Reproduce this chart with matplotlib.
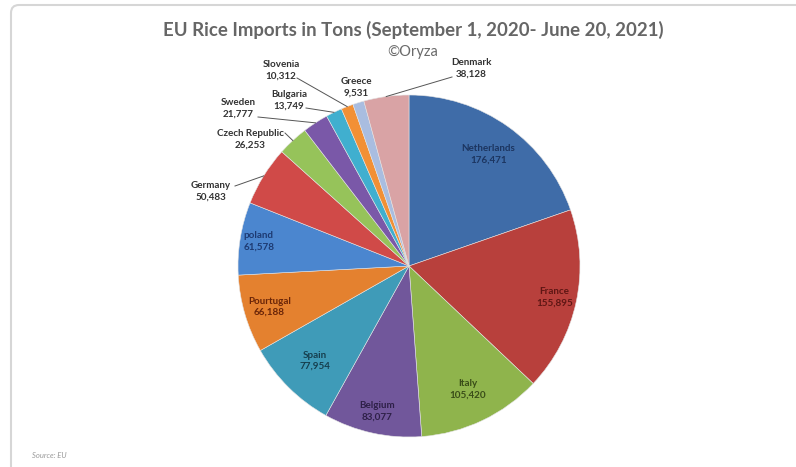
import numpy as np
import matplotlib.pyplot as plt
from matplotlib.patches import FancyBboxPatch

# Daten (Tonnen), Reihenfolge im Uhrzeigersinn ab 12 Uhr
countries = ['Netherlands', 'France', 'Italy', 'Belgium', 'Spain', 'Pourtugal',
             'poland', 'Germany', 'Czech Republic', 'Sweden', 'Bulgaria',
             'Slovenia', 'Greece', 'Denmark']
tons = [176471, 155895, 105420, 83077, 77954, 66188, 61578, 50483,
        26253, 21777, 13749, 10312, 9531, 38128]

colors = ['#3f6ca8', '#b8403c', '#8fb44c', '#71579b', '#3f9bb8', '#e4812f',
          '#4b86cf', '#d04a48', '#96c35a', '#7a58a8', '#40afcf', '#f29035',
          '#a9bde0', '#d9a3a5']
text_colors = ['#1c3560', '#5e1614', '#3a4d18', '#2e2048', '#163f4e', '#6a2508',
               '#1d3a72']

W, H = 796, 467
cx, cy, R = 409, H - 266, 171

fig = plt.figure(figsize=(W / 100, H / 100), dpi=100)
ax = fig.add_axes([0, 0, 1, 1])

wedges, _ = ax.pie(tons, colors=colors, startangle=90, counterclock=False,
                   center=(cx, cy), radius=R,
                   wedgeprops=dict(edgecolor='#e4e4e4', linewidth=0.4))
ax.set_xlim(0, W)
ax.set_ylim(0, H)
ax.set_aspect('auto')
ax.axis('off')

lab_font = dict(family='Lato', fontweight='bold', fontsize=7.1)

# Innen liegende Beschriftungen (Radius-Anteil je Stueck)
inner_r = [0.80, 0.87, 0.80, 0.87, 0.78, 0.85, 0.89]
for i in range(7):
    w = wedges[i]
    ang = np.deg2rad((w.theta1 + w.theta2) / 2)
    x = cx + inner_r[i] * R * np.cos(ang)
    y = cy + inner_r[i] * R * np.sin(ang)
    ax.text(x, y, f'{countries[i]}\n{tons[i]:,}', ha='center', va='center',
            color=text_colors[i], linespacing=1.35, **lab_font)

# Aussen liegende Beschriftungen: Textmitte in Pixeln, Linienstart
outer_pos = {7: (211, 191), 8: (250, 139), 9: (238, 108), 10: (289, 100),
             11: (281, 70), 12: (356, 87), 13: (471, 68)}
line_start = {7: (235, 186), 8: (285, 133), 9: (258, 117), 10: (306, 108),
              11: (297, 78), 13: (452, 77)}
for i, (tx, ty) in outer_pos.items():
    ax.text(tx, H - ty, f'{countries[i]}\n{tons[i]:,}', ha='center', va='center',
            color='#333333', linespacing=1.35, **lab_font)
    if i in line_start:
        w = wedges[i]
        ang = np.deg2rad((w.theta1 + w.theta2) / 2)
        ex = cx + R * np.cos(ang)
        ey = cy + R * np.sin(ang)
        sx, sy = line_start[i]
        ax.plot([sx, ex], [H - sy, ey], color='#555555', lw=0.7)

# Titel
ax.text(413, H - 30, 'EU Rice Imports in Tons (September 1, 2020- June 20, 2021)',
        ha='center', va='center', family='Lato', fontweight='bold',
        fontsize=13.4, color='#666666')
ax.text(413, H - 52, '\u00a9Oryza', ha='center', va='center', family='Lato',
        fontsize=10.5, color='#6a6a6a')
ax.text(32, H - 455, 'Source: EU', ha='left', va='center', family='Lato',
        style='italic', fontsize=5.5, color='#9a9a9a')

# Rahmen
frame = FancyBboxPatch((11, -30), 820, H - 5 + 30, boxstyle='round,pad=0,rounding_size=8',
                       facecolor='none', edgecolor='#d6d6d6', linewidth=1.5,
                       transform=ax.transData, clip_on=False)
ax.add_patch(frame)

fig.savefig('out.png', dpi=100, facecolor='white')
